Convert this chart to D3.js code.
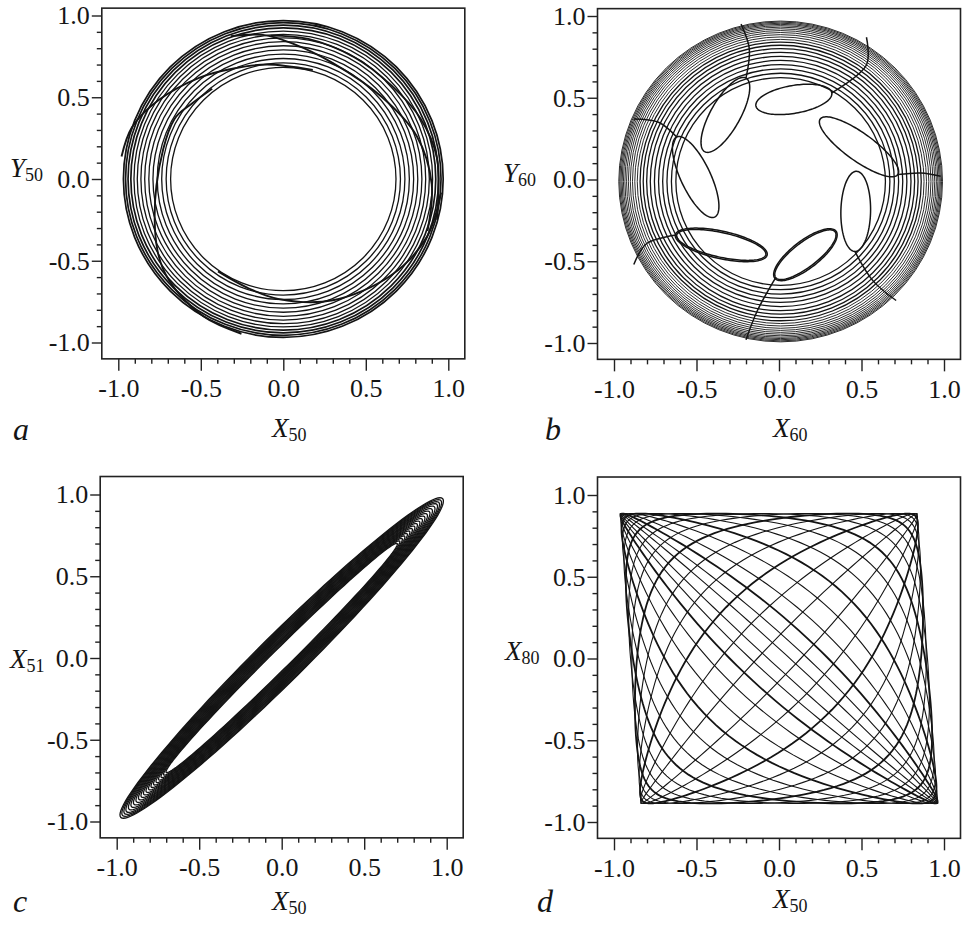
<!DOCTYPE html>
<html lang="en">
<head>
<meta charset="UTF-8" />
<title>Phase portraits a-d</title>
<script src="https://d3js.org/d3.v7.min.js"></script>
<style>
  body { margin: 0; background: #fff; }
  svg { display: block; }
  text { font-family: "Liberation Serif", "Times New Roman", serif; fill: #151515; }
  .tick text { font-size: 26px; }
  .tick line, .minor line { stroke: #222; stroke-width: 1.4px; }
  .frame { fill: none; stroke: #222; stroke-width: 1.6px; }
  .orbit { fill: none; stroke: #141414; }
</style>
</head>
<body>
<svg id="chart" width="965" height="927"></svg>
<script>
// ---- data ----
var tickValues = [-1, -0.5, 0, 0.5, 1];
var tickLabels = ["-1.0", "-0.5", "0.0", "0.5", "1.0"];
var minorTicks = [-0.9, -0.8, -0.7, -0.6, -0.4, -0.3, -0.2, -0.1, 0.1, 0.2, 0.3, 0.4, 0.6, 0.7, 0.8, 0.9];

// a: rings of the X50/Y50 orbit and the spiral jumps between them ([angle deg, radius])
var ringsA = [0.683, 0.71, 0.737, 0.764, 0.79, 0.815, 0.84, 0.863, 0.885, 0.905, 0.924, 0.941, 0.956, 0.969];
var spiralsA = [
  [[172, 0.99], [161, 0.97], [148, 0.9], [129, 0.8], [114, 0.74], [98, 0.707], [75, 0.69]],
  [[128, 0.70], [140, 0.72], [151, 0.755], [183, 0.77], [210, 0.88], [222, 0.93], [240, 0.97], [255, 0.98]],
  [[110, 0.93], [98, 0.89], [86, 0.83], [67, 0.77], [40, 0.78], [18, 0.85], [-2, 0.9], [-20, 0.93]],
  [[95, 0.88], [80, 0.87], [60, 0.86], [41, 0.87], [24, 0.91], [8, 0.94], [-15, 0.965]],
  [[235, 0.69], [252, 0.7], [268, 0.735], [292, 0.8], [318, 0.88], [338, 0.94], [355, 0.96]]
];

// b: rings of the X60/Y60 orbit and the seven inward loops
var centerB = [0.01, -0.012];
var ringsB = [0.635, 0.662, 0.689, 0.715, 0.74, 0.765, 0.79, 0.812, 0.833, 0.852, 0.869, 0.884,
              0.898, 0.911, 0.923, 0.934, 0.944, 0.953, 0.961, 0.968, 0.975, 0.981];
var loopTipsB    = [[-0.45, 0.17], [-0.14, 0.45], [0.25, 0.37], [0.47, 0.05], [0.34, -0.32], [-0.08, -0.46], [-0.39, -0.23]];
var loopBasesB   = [[-0.2, 0.62], [0.32, 0.53], [0.72, 0.03], [0.46, -0.44], [-0.02, -0.6], [-0.62, -0.34], [-0.62, 0.26]];
var loopWidthsB  = [0.09, 0.085, 0.085, 0.09, 0.075, 0.075, 0.09];
var loopPassesB  = [1, 1, 1, 1, 2, 2, 1];
var tailMidsB    = [[-0.18, 0.8], [0.53, 0.7], [0.86, 0.04], [0.57, -0.62], [-0.13, -0.8], [-0.8, -0.39], [-0.73, 0.35]];
var tailEndsB    = [[-0.23, 0.95], [0.53, 0.87], [0.98, 0.02], [0.71, -0.74], [-0.2, -0.98], [-0.88, -0.52], [-0.88, 0.37]];

// c: X50/X51 ellipses along the diagonal (tip position, half-width across the diagonal)
var tipsC   = [0.70, 0.715, 0.73, 0.745, 0.76, 0.775, 0.79, 0.805, 0.82, 0.835, 0.85, 0.865, 0.88, 0.895, 0.91, 0.925, 0.94, 0.952, 0.964, 0.975];
var widthsC = [0.057, 0.061, 0.066, 0.07, 0.075, 0.079, 0.083, 0.088, 0.092, 0.097, 0.101, 0.106, 0.11, 0.115, 0.119, 0.124, 0.128, 0.133, 0.138, 0.142];

// d: X50/X80 loops, phase lag between the two sites (degrees)
var phasesD = [6, 17, 29, 41, 53, 66, 79, 92, 105, 117, 129, 140, 150, 159, 166, 172, 177];

// ---- layout ----
var svg = d3.select("#chart");
var panels = [
  {key: "a", left: 118.3, top: 15.5, yTop: 1.045, xl: ["X", "50"], yl: ["Y", "50"],
   xlx: 272, xly: 437, ylx: 10, yly: 177, lx: 13, ly: 440},
  {key: "b", left: 614, top: 16, yTop: 1.045, xl: ["X", "60"], yl: ["Y", "60"],
   xlx: 773, xly: 437, ylx: 503, yly: 182, lx: 545, ly: 440},
  {key: "c", left: 116.7, top: 494.5, yTop: 1.11, xl: ["X", "50"], yl: ["X", "51"],
   xlx: 272, xly: 910, ylx: 10, yly: 668, lx: 13, ly: 912},
  {key: "d", left: 614, top: 495, yTop: 1.11, xl: ["X", "50"], yl: ["X", "80"],
   xlx: 773, xly: 908, ylx: 505, yly: 660, lx: 537, ly: 912}
];

function label(g, x, y, parts, size) {
  var t = g.append("text").attr("x", x).attr("y", y);
  t.append("tspan").style("font-style", "italic").style("font-size", size + "px").text(parts[0]);
  t.append("tspan").style("font-size", "18px").attr("dy", 4).text(parts[1]);
}

panels.forEach(function (p) {
  var x = d3.scaleLinear().domain([-1, 1]).range([p.left, p.left + 330]);
  var y = d3.scaleLinear().domain([1, -1]).range([p.top, p.top + 327]);
  p.x = x; p.y = y;
  var g = svg.append("g").attr("class", "panel-" + p.key);
  p.g = g;

  g.append("rect").attr("class", "frame")
    .attr("x", x(-1.1)).attr("y", y(p.yTop))
    .attr("width", x(1.1) - x(-1.1)).attr("height", y(-1.1) - y(p.yTop));

  var left = g.append("g").attr("transform", "translate(" + x(-1.1) + ",0)")
    .call(d3.axisLeft(y).tickValues(tickValues).tickSize(10).tickPadding(2)
      .tickFormat(function (d, i) { return tickLabels[i]; }));
  left.select(".domain").remove();
  g.append("g").attr("class", "minor").attr("transform", "translate(" + x(-1.1) + ",0)")
    .call(d3.axisLeft(y).tickValues(minorTicks).tickSize(5).tickFormat(""))
    .select(".domain").remove();

  var bottom = g.append("g").attr("transform", "translate(0," + y(-1.1) + ")")
    .call(d3.axisBottom(x).tickValues(tickValues).tickSize(12).tickPadding(8)
      .tickFormat(function (d, i) { return tickLabels[i]; }));
  bottom.select(".domain").remove();
  g.append("g").attr("class", "minor").attr("transform", "translate(0," + y(-1.1) + ")")
    .call(d3.axisBottom(x).tickValues(minorTicks).tickSize(5).tickFormat(""))
    .select(".domain").remove();
  g.selectAll("g").attr("font-family", "Liberation Serif, serif");
  g.selectAll(".tick text").attr("fill", "#151515");
  g.selectAll(".tick line").attr("stroke", "#222");

  label(g, p.xlx, p.xly, p.xl, 27);
  label(g, p.ylx, p.yly, p.yl, 27);
  g.append("text").attr("x", p.lx).attr("y", p.ly)
    .style("font-style", "italic").style("font-size", "32px").text(p.key);
});

function lineIn(p, curve) {
  return d3.line().x(function (d) { return p.x(d[0]); })
    .y(function (d) { return p.y(d[1]); }).curve(curve || d3.curveLinear);
}
var steps = d3.range(0, 361, 3).map(function (a) { return a * Math.PI / 180; });

// ---- a ----
(function () {
  var p = panels[0];
  p.g.selectAll("ellipse.ring").data(ringsA).join("ellipse")
    .attr("class", "orbit ring")
    .attr("cx", p.x(0)).attr("cy", p.y(0))
    .attr("rx", function (r) { return p.x(r) - p.x(0); })
    .attr("ry", function (r) { return p.y(0) - p.y(r); })
    .attr("stroke-width", function (r, i) { return i > 9 ? 1.7 : 1.3; });
  var polar = lineIn(p, d3.curveCatmullRom);
  p.g.selectAll("path.spiral").data(spiralsA).join("path")
    .attr("class", "orbit spiral").attr("stroke-width", 1.9)
    .attr("d", function (pts) {
      return polar(pts.map(function (q) {
        var a = q[0] * Math.PI / 180;
        return [q[1] * Math.cos(a), q[1] * Math.sin(a)];
      }));
    });
})();

// ---- b ----
(function () {
  var p = panels[1];
  p.g.selectAll("ellipse.ring").data(ringsB).join("ellipse")
    .attr("class", "orbit ring")
    .attr("cx", p.x(centerB[0])).attr("cy", p.y(centerB[1]))
    .attr("rx", function (r) { return p.x(r) - p.x(0); })
    .attr("ry", function (r) { return p.y(0) - p.y(r); })
    .attr("stroke", "#262626")
    .attr("stroke-width", function (r) { return r > 0.86 ? 0.9 : 1.3; });
  var closed = lineIn(p, d3.curveLinearClosed);
  var open = lineIn(p, d3.curveCatmullRom);
  loopTipsB.forEach(function (tip, i) {
    var base = loopBasesB[i];
    var cx = (tip[0] + base[0]) / 2, cy = (tip[1] + base[1]) / 2;
    var dx = tip[0] - base[0], dy = tip[1] - base[1];
    var L = Math.sqrt(dx * dx + dy * dy);
    var ux = dx / L, uy = dy / L;
    d3.range(loopPassesB[i]).forEach(function (k) {
      var w = loopWidthsB[i] * (1 + 0.12 * k), h = L / 2 * (1 + 0.03 * k);
      var pts = steps.map(function (t) {
        return [cx - ux * h * Math.cos(t) - uy * w * Math.sin(t),
                cy - uy * h * Math.cos(t) + ux * w * Math.sin(t)];
      });
      p.g.append("path").attr("class", "orbit").attr("stroke-width", 1.5).attr("d", closed(pts));
    });
    p.g.append("path").attr("class", "orbit").attr("stroke-width", 1.5)
      .attr("d", open([base, tailMidsB[i], tailEndsB[i]]));
  });
})();

// ---- c ----
(function () {
  var p = panels[2];
  var closed = lineIn(p, d3.curveLinearClosed);
  var s = Math.SQRT1_2;
  p.g.selectAll("path.ell").data(tipsC).join("path")
    .attr("class", "orbit ell").attr("stroke-width", 1.3)
    .attr("d", function (tip, i) {
      var a = tip * Math.SQRT2, b = widthsC[i];
      return closed(steps.map(function (t) {
        var u = a * Math.cos(t), v = b * Math.sin(t);
        return [s * (u - v), s * (u + v)];
      }));
    });
})();

// ---- d ----
(function () {
  var p = panels[3];
  var closed = lineIn(p, d3.curveLinearClosed);
  var k = 1.15, amp = 0.9, skew = 0.07;
  function sat(u) { return amp * Math.tanh(k * u) / Math.tanh(k); }
  var fine = d3.range(0, 360, 2).map(function (a) { return a * Math.PI / 180; });
  p.g.selectAll("path.lis").data(phasesD).join("path")
    .attr("class", "orbit lis").attr("stroke", "#3a3a3a")
    .attr("stroke-width", function (ph, i) { return i % 3 === 2 ? 1.8 : 1.1; })
    .attr("d", function (ph) {
      var f = ph * Math.PI / 180;
      return closed(fine.map(function (t) {
        var yy = sat(Math.cos(t - f)) * 0.985;
        return [sat(Math.cos(t)) - skew * yy, yy];
      }));
    });
})();
</script>
</body>
</html>
